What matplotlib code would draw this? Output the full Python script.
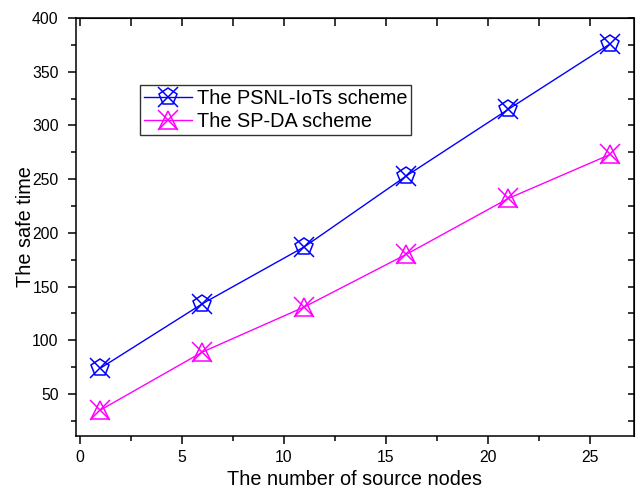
import matplotlib
matplotlib.use("Agg")
import matplotlib.pyplot as plt
from matplotlib.ticker import MultipleLocator

plt.rcParams["font.family"] = ["Liberation Sans", "DejaVu Sans"]

# number of source nodes
nodes = [1, 6, 11, 16, 21, 26]
# safe time of each scheme
psnl_iots = [74, 134, 187, 253, 315, 376]
sp_da = [35, 89, 131, 180, 232, 273]

BLUE = "#0000ff"
MAGENTA = "#ff00ff"

fig = plt.figure(figsize=(6.44, 4.88), dpi=100)
ax = fig.add_axes([0.118, 0.107, 0.866, 0.856])

# each series: a line with hollow shape markers plus an X overlay
l1, = ax.plot(nodes, psnl_iots, color=BLUE, lw=1, marker="p", ms=13,
              mfc="none", mew=1.1)
x1, = ax.plot(nodes, psnl_iots, color=BLUE, ls="none", marker="x", ms=14,
              mew=1.1)
l2, = ax.plot(nodes, sp_da, color=MAGENTA, lw=1, marker="^", ms=13,
              mfc="none", mew=1.1)
x2, = ax.plot(nodes, sp_da, color=MAGENTA, ls="none", marker="x", ms=14,
              mew=1.1)

ax.set_xlim(-0.2, 27.15)
ax.set_ylim(11, 400)
ax.xaxis.set_major_locator(MultipleLocator(5))
ax.xaxis.set_minor_locator(MultipleLocator(2.5))
ax.yaxis.set_major_locator(MultipleLocator(50))
ax.yaxis.set_minor_locator(MultipleLocator(25))
ax.set_yticks([50, 100, 150, 200, 250, 300, 350, 400])

for s in ax.spines.values():
    s.set_linewidth(1.1)

ax.tick_params(which="both", direction="out", top=False, right=False,
               labelsize=11.3, width=1.1)
ax.tick_params(axis="x", pad=5)
ax.tick_params(axis="y", pad=7)
ax.tick_params(which="major", length=5.5)
ax.tick_params(which="minor", length=3.5)

# inward ticks on the top and right frame
top = ax.secondary_xaxis("top")
top.xaxis.set_major_locator(MultipleLocator(2.5))
top.tick_params(direction="in", length=5.5, width=1.1, labeltop=False)
right = ax.secondary_yaxis("right")
right.yaxis.set_major_locator(MultipleLocator(25))
right.tick_params(direction="in", length=4, width=1.1, labelright=False)

ax.set_xlabel("The number of source nodes", fontsize=14.3, labelpad=3)
ax.set_ylabel("The safe time", fontsize=14.3, labelpad=-2)

leg = ax.legend([(l1, x1), (l2, x2)],
                ["The PSNL-IoTs scheme", "The SP-DA scheme"],
                loc="upper left", bbox_to_anchor=(0.115, 0.84),
                fontsize=14.3, frameon=True, fancybox=False,
                edgecolor="black", handlelength=2.4, handletextpad=0.25,
                borderpad=0.2, labelspacing=0.2, borderaxespad=0)
leg.get_frame().set_linewidth(1.0)

fig.savefig("out.png", dpi=100)
